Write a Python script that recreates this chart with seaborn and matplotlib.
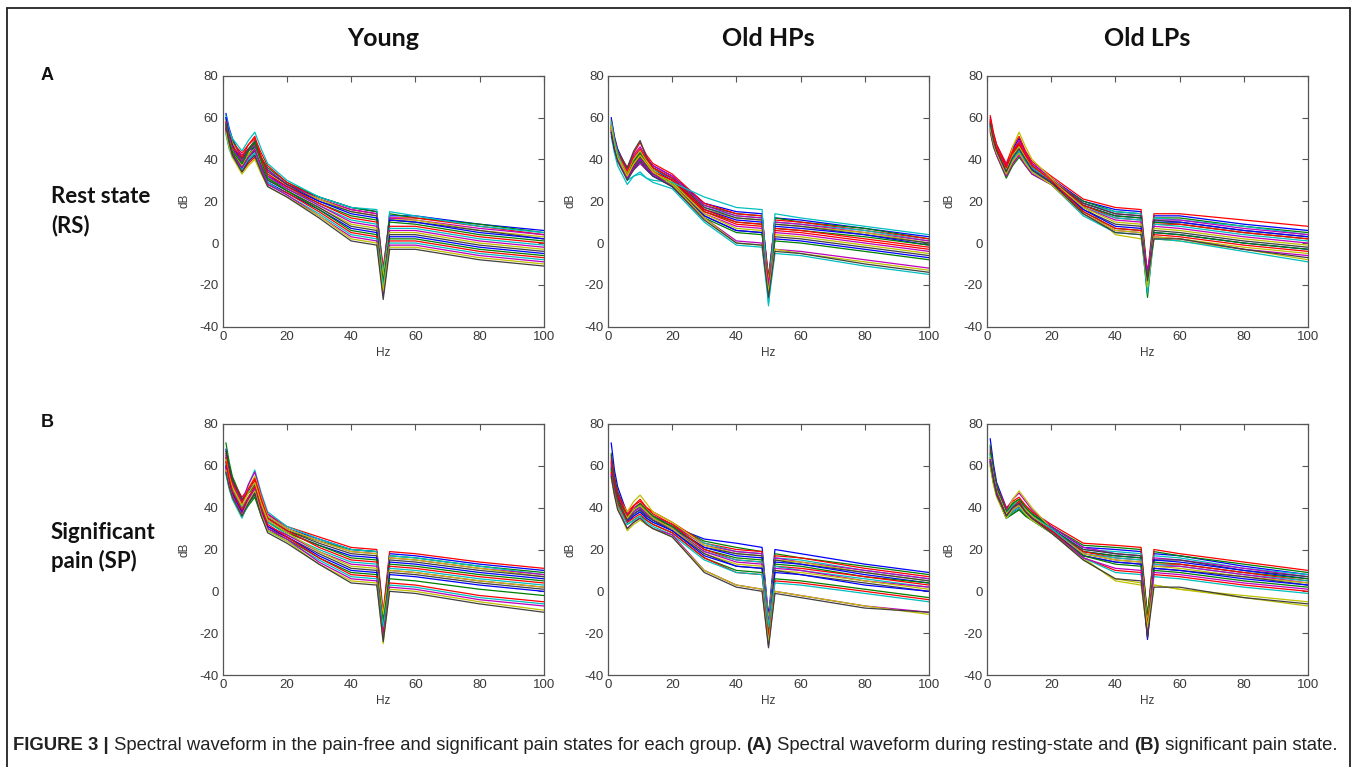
import numpy as np
import pandas as pd
import matplotlib
matplotlib.use("Agg")
import matplotlib.pyplot as plt
from matplotlib import font_manager
import seaborn as sns

# ---------------- data ----------------
FREQ = [1, 2, 3, 6, 8, 10, 12, 14, 20, 30, 40, 48, 50, 52, 60, 80, 100]

YOUNG_RS = [
    [62, 55, 50, 40, 44, 46, 40, 35, 28, 22, 17, 15, -14, 13, 13, 9, 6],
    [60, 53, 49, 41, 45, 48, 41, 36, 29, 22, 17, 15, -18, 14, 12, 9, 5],
    [58, 52, 48, 43, 47, 50, 43, 37, 29, 21, 16, 14, -12, 12, 12, 8, 4],
    [61, 54, 50, 44, 49, 53, 45, 38, 30, 22, 17, 16, -20, 15, 13, 8, 5],
    [57, 51, 47, 42, 45, 47, 40, 35, 28, 21, 16, 14, -16, 12, 11, 7, 4],
    [59, 52, 48, 39, 43, 45, 38, 33, 27, 21, 15, 13, -22, 11, 11, 6, 3],
    [56, 50, 46, 40, 45, 49, 41, 34, 28, 20, 15, 13, -15, 11, 10, 6, 2],
    [60, 52, 47, 38, 42, 44, 37, 32, 27, 20, 14, 12, -19, 11, 10, 5, 2],
    [55, 49, 45, 37, 42, 46, 38, 31, 26, 19, 13, 11, -17, 10, 9, 4, 1],
    [58, 51, 46, 41, 47, 51, 41, 33, 27, 19, 12, 10, -21, 8, 8, 3, 0],
    [54, 48, 44, 36, 40, 43, 36, 30, 26, 18, 11, 9, -14, 7, 7, 2, -1],
    [57, 50, 45, 39, 44, 47, 39, 32, 26, 18, 10, 8, -18, 6, 6, 1, -2],
    [56, 49, 44, 37, 42, 45, 38, 31, 25, 17, 9, 7, -16, 5, 5, 0, -3],
    [55, 48, 43, 36, 41, 44, 37, 30, 25, 17, 8, 6, -20, 4, 4, -1, -4],
    [53, 46, 42, 35, 39, 42, 35, 29, 24, 16, 7, 5, -22, 3, 3, -2, -5],
    [57, 49, 44, 38, 44, 48, 39, 31, 25, 16, 6, 4, -19, 2, 2, -3, -6],
    [54, 47, 42, 34, 38, 41, 34, 28, 24, 15, 5, 3, -24, 1, 1, -4, -7],
    [52, 45, 41, 35, 40, 43, 35, 29, 23, 14, 4, 2, -21, 0, 0, -5, -8],
    [55, 47, 42, 36, 41, 45, 36, 28, 23, 13, 3, 1, -25, -1, -1, -6, -9],
    [53, 46, 41, 33, 37, 40, 33, 27, 22, 13, 2, 0, -23, -2, -2, -7, -10],
    [56, 48, 42, 34, 39, 42, 34, 27, 22, 12, 1, -1, -27, -3, -3, -8, -11],
]

OLDHP_RS = [
    [60, 51, 45, 35, 40, 44, 40, 37, 32, 19, 15, 14, -20, 12, 11, 7, 3],
    [56, 48, 43, 34, 39, 42, 38, 36, 31, 18, 14, 13, -22, 12, 10, 7, 2],
    [58, 50, 44, 36, 43, 48, 42, 38, 33, 19, 14, 13, -18, 11, 10, 6, 2],
    [55, 47, 42, 33, 38, 41, 37, 35, 31, 17, 13, 12, -24, 10, 9, 6, 1],
    [57, 49, 43, 35, 42, 46, 41, 37, 32, 18, 13, 12, -16, 10, 9, 5, 1],
    [54, 46, 41, 32, 37, 40, 36, 34, 30, 16, 12, 11, -25, 9, 8, 5, 0],
    [59, 50, 44, 36, 44, 49, 41, 36, 31, 17, 12, 11, -19, 9, 8, 4, 0],
    [56, 48, 42, 33, 39, 43, 38, 35, 30, 16, 11, 10, -21, 8, 7, 4, -1],
    [53, 45, 40, 31, 36, 39, 35, 33, 29, 15, 10, 9, -17, 7, 6, 3, -1],
    [57, 49, 43, 34, 41, 45, 40, 36, 31, 16, 10, 9, -23, 7, 6, 2, -2],
    [51, 43, 37, 28, 32, 34, 31, 29, 26, 10, -1, -2, -29, -5, -6, -11, -15],
    [52, 45, 40, 31, 35, 38, 35, 32, 28, 14, 8, 7, -26, 5, 4, 0, -4],
    [56, 48, 42, 33, 40, 44, 39, 35, 29, 14, 7, 6, -18, 4, 3, -1, -5],
    [54, 46, 41, 32, 37, 41, 37, 33, 28, 13, 6, 5, -22, 3, 2, -2, -6],
    [53, 45, 40, 31, 36, 40, 36, 32, 27, 13, 6, 5, -24, 2, 1, -3, -7],
    [55, 47, 41, 32, 39, 43, 38, 34, 28, 12, 5, 4, -21, 1, 0, -4, -8],
    [55, 47, 41, 32, 38, 42, 38, 34, 30, 15, 9, 8, -20, 6, 5, 1, -3],
    [58, 49, 43, 30, 32, 33, 31, 30, 29, 22, 17, 16, -30, 14, 12, 8, 4],
    [54, 46, 40, 31, 36, 40, 36, 33, 27, 12, 1, 0, -20, -3, -4, -8, -12],
    [56, 47, 41, 32, 38, 42, 38, 34, 28, 12, 0, -1, -23, -3, -5, -9, -13],
    [53, 45, 39, 30, 35, 39, 35, 32, 27, 11, 0, -1, -26, -4, -5, -10, -14],
]

OLDLP_RS = [
    [60, 52, 47, 37, 45, 50, 43, 38, 31, 20, 16, 15, -18, 13, 13, 9, 6],
    [58, 51, 46, 36, 43, 48, 42, 37, 30, 20, 15, 14, -20, 12, 12, 8, 5],
    [61, 53, 47, 38, 46, 51, 44, 39, 32, 21, 17, 16, -15, 14, 14, 11, 8],
    [57, 50, 45, 35, 42, 46, 41, 36, 30, 19, 15, 14, -22, 12, 11, 8, 4],
    [59, 51, 46, 37, 44, 49, 43, 38, 31, 19, 14, 13, -17, 11, 11, 7, 4],
    [56, 49, 44, 34, 46, 53, 46, 40, 31, 18, 4, 2, -14, 2, 1, -3, -8],
    [58, 50, 45, 36, 43, 47, 42, 37, 30, 19, 14, 13, -19, 11, 10, 6, 3],
    [57, 50, 45, 35, 42, 46, 41, 36, 30, 18, 13, 12, -21, 10, 10, 6, 3],
    [55, 48, 43, 33, 40, 44, 39, 35, 29, 18, 13, 12, -16, 10, 9, 5, 2],
    [59, 51, 46, 36, 43, 47, 42, 37, 30, 18, 12, 11, -23, 9, 9, 5, 2],
    [56, 49, 44, 34, 41, 45, 40, 36, 30, 17, 12, 11, -18, 9, 8, 4, 1],
    [54, 47, 42, 32, 38, 42, 38, 34, 29, 17, 11, 10, -24, 8, 7, 3, 0],
    [57, 50, 45, 35, 42, 46, 41, 37, 30, 17, 10, 9, -20, 7, 6, 2, -1],
    [55, 48, 43, 33, 39, 43, 39, 35, 29, 16, 9, 8, -17, 6, 5, 1, -2],
    [56, 49, 44, 34, 40, 44, 39, 35, 29, 16, 8, 7, -22, 5, 4, 0, -3],
    [53, 46, 42, 31, 37, 41, 37, 33, 28, 15, 7, 6, -26, 5, 4, 0, -3],
    [58, 50, 45, 36, 44, 48, 42, 37, 30, 15, 7, 6, -19, 4, 3, -1, -4],
    [56, 48, 43, 33, 40, 44, 39, 34, 28, 13, 5, 4, -24, 2, 1, -4, -9],
    [54, 47, 42, 32, 38, 42, 37, 33, 28, 14, 6, 5, -13, 3, 2, -3, -6],
    [55, 48, 43, 33, 39, 43, 38, 34, 28, 14, 6, 5, -21, 3, 2, -2, -5],
    [57, 49, 44, 34, 41, 45, 40, 35, 29, 14, 5, 4, -18, 2, 2, -3, -7],
]

YOUNG_SP = [
    [68, 60, 54, 43, 48, 52, 44, 36, 30, 25, 20, 19, -12, 18, 17, 13, 10],
    [71, 62, 55, 44, 47, 50, 42, 35, 29, 24, 20, 19, -15, 17, 16, 12, 9],
    [66, 58, 53, 45, 49, 53, 44, 37, 31, 26, 21, 20, -10, 19, 18, 14, 11],
    [64, 56, 51, 42, 51, 58, 47, 38, 31, 25, 20, 19, -18, 17, 16, 12, 8],
    [65, 57, 52, 43, 51, 57, 46, 37, 30, 24, 19, 18, -14, 16, 15, 11, 8],
    [63, 55, 50, 41, 49, 55, 45, 36, 30, 24, 19, 18, -20, 16, 15, 11, 7],
    [67, 59, 53, 44, 47, 51, 42, 35, 29, 23, 18, 17, -13, 15, 14, 10, 7],
    [62, 55, 50, 40, 45, 49, 41, 34, 28, 22, 17, 16, -22, 14, 13, 9, 6],
    [60, 53, 48, 39, 44, 48, 40, 33, 28, 22, 16, 15, -16, 13, 12, 8, 5],
    [64, 56, 51, 42, 49, 54, 44, 35, 29, 21, 15, 14, -19, 12, 11, 7, 4],
    [61, 54, 49, 40, 45, 50, 41, 33, 27, 20, 14, 13, -17, 11, 10, 6, 3],
    [59, 52, 47, 38, 43, 47, 38, 31, 27, 19, 13, 12, -21, 10, 9, 5, 2],
    [63, 55, 50, 41, 47, 52, 42, 34, 28, 19, 12, 11, -11, 10, 9, 5, 2],
    [58, 51, 46, 37, 42, 46, 37, 30, 26, 18, 11, 10, -18, 9, 8, 4, 1],
    [60, 52, 47, 38, 44, 48, 39, 31, 26, 17, 10, 9, -23, 8, 7, 3, 0],
    [57, 50, 45, 36, 41, 45, 36, 29, 25, 16, 9, 8, -15, 6, 5, 1, -2],
    [62, 54, 48, 39, 45, 50, 40, 32, 26, 16, 8, 7, -20, 4, 3, -2, -5],
    [56, 49, 44, 35, 42, 47, 37, 29, 24, 15, 7, 6, -17, 3, 2, -3, -6],
    [59, 51, 46, 37, 44, 49, 38, 30, 25, 14, 6, 5, -22, 2, 1, -4, -7],
    [58, 50, 45, 36, 43, 48, 37, 29, 24, 13, 5, 4, -25, 1, 0, -5, -9],
    [57, 50, 45, 36, 42, 47, 36, 28, 23, 13, 4, 3, -24, 0, -1, -6, -10],
]

OLDHP_SP = [
    [71, 58, 50, 37, 39, 40, 37, 35, 31, 25, 23, 21, -12, 20, 18, 13, 9],
    [66, 55, 48, 36, 39, 41, 38, 36, 32, 24, 21, 19, -15, 18, 16, 12, 8],
    [64, 54, 47, 38, 41, 43, 40, 38, 33, 23, 20, 19, -18, 17, 16, 11, 7],
    [62, 52, 46, 35, 38, 40, 37, 35, 31, 23, 19, 18, -16, 16, 15, 10, 6],
    [63, 53, 47, 37, 40, 42, 39, 36, 32, 22, 19, 18, -20, 16, 14, 10, 6],
    [60, 51, 45, 38, 43, 46, 42, 38, 33, 22, 18, 17, -14, 15, 14, 9, 5],
    [65, 54, 47, 36, 39, 41, 38, 35, 31, 21, 18, 17, -22, 15, 13, 9, 5],
    [61, 51, 45, 34, 37, 39, 36, 34, 30, 21, 17, 16, -17, 14, 13, 8, 4],
    [59, 50, 44, 35, 39, 42, 39, 36, 31, 20, 16, 15, -19, 13, 12, 7, 4],
    [62, 52, 46, 36, 41, 44, 40, 37, 32, 20, 15, 14, -24, 12, 11, 7, 3],
    [58, 49, 43, 33, 36, 38, 35, 33, 30, 19, 15, 14, -21, 12, 10, 6, 2],
    [60, 50, 44, 34, 38, 40, 37, 34, 30, 19, 14, 13, -16, 11, 10, 5, 2],
    [57, 48, 43, 35, 39, 41, 38, 35, 30, 18, 13, 12, -18, 10, 9, 5, 1],
    [59, 50, 44, 34, 37, 39, 36, 34, 29, 18, 12, 11, -23, 10, 8, 4, 0],
    [56, 48, 42, 33, 36, 38, 35, 33, 29, 17, 12, 11, -20, 9, 8, 3, 0],
    [58, 49, 43, 32, 34, 36, 34, 32, 28, 16, 10, 9, -19, 6, 5, 1, -3],
    [57, 48, 42, 33, 35, 37, 34, 32, 28, 16, 9, 8, -22, 5, 4, 0, -4],
    [55, 47, 41, 32, 34, 36, 33, 31, 27, 15, 9, 8, -17, 4, 3, -1, -5],
    [56, 47, 40, 30, 33, 35, 32, 30, 27, 10, 3, 1, -26, 0, -2, -7, -10],
    [54, 46, 40, 29, 32, 34, 32, 30, 26, 10, 3, 1, -24, 0, -2, -7, -11],
    [55, 46, 39, 30, 33, 35, 32, 30, 26, 9, 2, 0, -27, -1, -3, -8, -10],
]

OLDLP_SP = [
    [73, 61, 52, 40, 41, 42, 39, 37, 31, 21, 20, 19, -13, 18, 17, 12, 8],
    [70, 59, 51, 39, 42, 44, 41, 38, 31, 22, 21, 20, -15, 19, 17, 13, 9],
    [68, 58, 50, 40, 43, 45, 41, 38, 32, 23, 22, 21, -12, 20, 18, 14, 10],
    [66, 56, 49, 38, 40, 42, 39, 37, 30, 20, 19, 18, -18, 17, 16, 11, 8],
    [67, 57, 50, 39, 44, 47, 43, 39, 31, 21, 18, 17, -14, 16, 15, 11, 7],
    [65, 55, 48, 37, 44, 48, 44, 40, 30, 16, 5, 3, -20, 3, 1, -3, -7],
    [69, 58, 50, 38, 41, 43, 40, 37, 30, 20, 18, 17, -16, 15, 15, 10, 7],
    [64, 55, 48, 37, 39, 41, 38, 36, 30, 19, 17, 16, -22, 15, 14, 10, 6],
    [66, 56, 49, 38, 42, 44, 40, 37, 30, 19, 17, 16, -11, 14, 13, 9, 6],
    [63, 54, 47, 36, 38, 40, 37, 35, 29, 19, 16, 15, -19, 13, 13, 9, 5],
    [65, 55, 48, 37, 41, 43, 39, 36, 30, 18, 16, 15, -17, 13, 12, 8, 5],
    [62, 53, 47, 36, 39, 41, 38, 35, 29, 18, 15, 14, -21, 12, 12, 8, 4],
    [64, 55, 48, 37, 40, 42, 39, 36, 29, 18, 15, 14, -15, 12, 11, 7, 4],
    [61, 52, 46, 35, 37, 39, 36, 34, 28, 17, 14, 13, -20, 11, 10, 7, 3],
    [63, 54, 47, 36, 38, 40, 37, 35, 29, 17, 14, 13, -23, 11, 10, 6, 3],
    [60, 52, 46, 35, 37, 39, 36, 34, 28, 17, 13, 12, -18, 10, 9, 5, 2],
    [62, 53, 47, 36, 40, 43, 38, 35, 29, 16, 10, 9, -16, 8, 7, 3, 0],
    [61, 52, 46, 35, 38, 40, 37, 34, 28, 16, 9, 8, -19, 7, 6, 2, -1],
    [63, 54, 47, 36, 40, 42, 38, 35, 28, 16, 11, 10, -21, 9, 8, 4, 1],
    [60, 51, 45, 35, 39, 41, 37, 34, 28, 15, 6, 4, -17, 3, 1, -2, -5],
    [62, 53, 46, 36, 40, 42, 38, 35, 28, 15, 6, 5, -22, 2, 2, -3, -6],
]

COL_TITLES = ["Young", "Old HPs", "Old LPs"]
ROW_LETTERS = ["A", "B"]
ROW_TITLES = ["Rest state\n(RS)", "Significant\npain (SP)"]
X_TICKS = [0, 20, 40, 60, 80, 100]
Y_TICKS = [-40, -20, 0, 20, 40, 60, 80]
CAPTION = [
    ("FIGURE 3 |", "bold"),
    (" Spectral waveform in the pain-free and significant pain states for each group. ", "normal"),
    ("(A)", "bold"),
    (" Spectral waveform during resting-state and ", "normal"),
    ("(B)", "bold"),
    (" significant pain state.", "normal"),
]

PANELS = [[YOUNG_RS, OLDHP_RS, OLDLP_RS], [YOUNG_SP, OLDHP_SP, OLDLP_SP]]

# MATLAB classic line colour order b, g, r, c, m, y, k
LINE_COLORS = [(0, 0, 1), (0, 0.5, 0), (1, 0, 0), (0, 0.75, 0.75),
               (0.75, 0, 0.75), (0.75, 0.75, 0), (0.25, 0.25, 0.25)]

# ---------------- styling ----------------
sns.set_style("white")
avail = {f.name for f in font_manager.fontManager.ttflist}
head_font = "Lato" if "Lato" in avail else "DejaVu Sans"
tick_font = "Liberation Sans" if "Liberation Sans" in avail else "DejaVu Sans"
cap_font = "Liberation Sans Narrow" if "Liberation Sans Narrow" in avail else tick_font
plt.rcParams["font.family"] = [tick_font, "DejaVu Sans"]
plt.rcParams["axes.unicode_minus"] = False

W, H = 1357, 767
fig = plt.figure(figsize=(W / 100, H / 100), dpi=100)
fig.patch.set_facecolor("white")

def fx(px):
    return px / W

def fy(py):
    return 1 - py / H

col_left = [222.7, 608.0, 987.0]
ax_w = 321.0
row_top = [75.7, 424.0]
ax_h = 251.0

for r in range(2):
    for c in range(3):
        ax = fig.add_axes([fx(col_left[c]), fy(row_top[r] + ax_h), ax_w / W, ax_h / H])
        rows = []
        for i, vals in enumerate(PANELS[r][c]):
            for f, v in zip(FREQ, vals):
                rows.append((f, v, i))
        df = pd.DataFrame(rows, columns=["Hz", "dB", "ch"])
        n = len(PANELS[r][c])
        pal = [LINE_COLORS[i % 7] for i in range(n)]
        sns.lineplot(data=df, x="Hz", y="dB", hue="ch", palette=pal, hue_order=list(range(n)),
                     estimator=None, sort=False, legend=False, linewidth=0.9, ax=ax)
        ax.set_xlim(0, 100)
        ax.set_ylim(-40, 80)
        ax.set_xticks(X_TICKS)
        ax.set_yticks(Y_TICKS)
        ax.tick_params(direction="in", length=4, width=0.8, top=True, right=True,
                       labelsize=9.5, labelcolor="#3a3a3a", color="#555555", pad=3)
        for s in ax.spines.values():
            s.set_color("#555555")
            s.set_linewidth(0.9)
        ax.set_xlabel("Hz", fontsize=8.5, color="#3a3a3a", labelpad=3)
        ax.set_ylabel("dB", fontsize=8.5, color="#3a3a3a", labelpad=6)

# column titles
for c, t in enumerate(COL_TITLES):
    fig.text(fx(col_left[c] + ax_w / 2), fy(38), t, ha="center", va="center",
             fontsize=18, fontweight="bold", family=[head_font, "DejaVu Sans"], color="#111111")

# row letters and titles
for r in range(2):
    fig.text(fx(41), fy([75, 422][r]), ROW_LETTERS[r], ha="left", va="center",
             fontsize=13, fontweight="bold", family=[tick_font, "DejaVu Sans"], color="#111111")
    fig.text(fx(51), fy([211, 547][r]), ROW_TITLES[r], ha="left", va="center",
             fontsize=16, fontweight="bold", family=[head_font, "DejaVu Sans"], color="#111111",
             linespacing=1.4)

# outer frame
frame_kw = dict(color="#222222", linewidth=1.3, transform=fig.transFigure, clip_on=False)
fig.add_artist(plt.Line2D([fx(7), fx(7)], [fy(8), fy(767)], **frame_kw))
fig.add_artist(plt.Line2D([fx(1350), fx(1350)], [fy(8), fy(767)], **frame_kw))
fig.add_artist(plt.Line2D([fx(7), fx(1350)], [fy(8), fy(8)], **frame_kw))

# caption built from pieces
renderer = fig.canvas.get_renderer()
x = fx(13)
cap_y = fy(746)
for txt, wt in CAPTION:
    t = fig.text(x, cap_y, txt, ha="left", va="center", fontsize=13.3, fontweight=wt,
                 family=[cap_font, "DejaVu Sans"], color="#222222")
    bb = t.get_window_extent(renderer=renderer)
    x += bb.width / W

fig.savefig("out.png", dpi=100, facecolor="white")
